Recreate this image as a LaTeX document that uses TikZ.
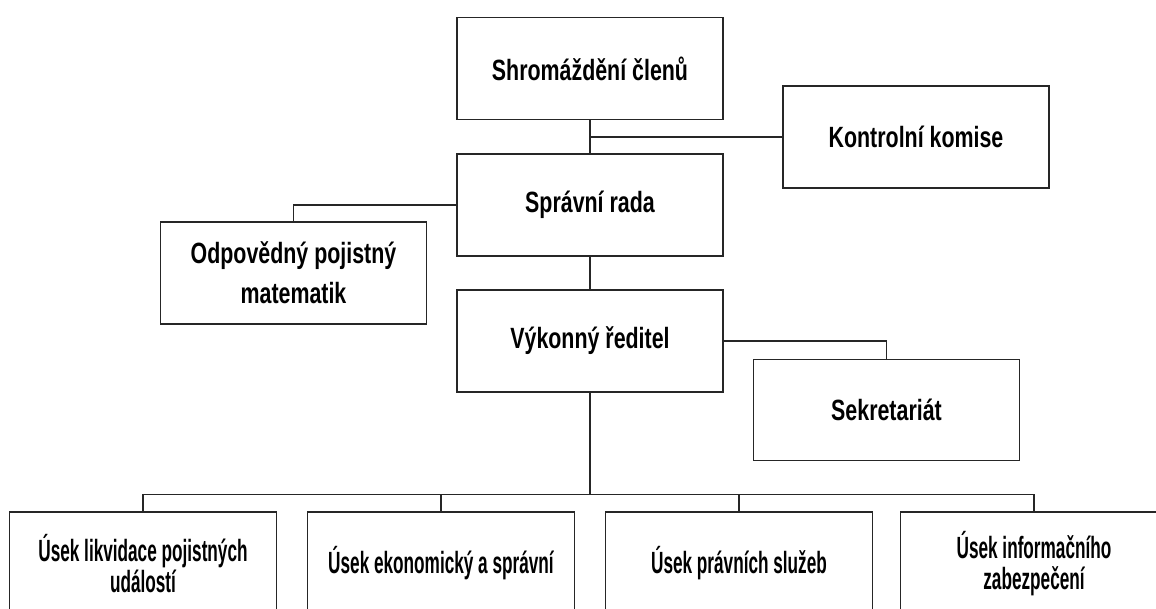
\documentclass[tikz,border=0pt]{standalone}
\usepackage{fontspec}
\setmainfont{Liberation Sans}
\newfontfamily\unitfont{Liberation Sans}[FakeStretch=0.73]
\newfontfamily\deptfont{Liberation Sans}[FakeStretch=0.56]
\usetikzlibrary{positioning}
\tikzset{x=1pt, y=-1pt}

\begin{document}
\begin{tikzpicture}
% Style
[
    line cap=rect,
    unit/.style={draw=frame, line width=1.8pt, fill=white, inner sep=0pt,
        minimum width=266pt, minimum height=102pt, align=center,
        font=\unitfont\bfseries\fontsize{29.3}{40}\selectfont},
    dept/.style={unit, minimum width=267pt, minimum height=103pt,
        font=\deptfont\bfseries\fontsize{30.7}{31}\selectfont},
    link/.style={draw=frame, line width=1.4pt}
]

% Define: Colors
\colorlet{frame}{black!85}

%=================================== Start ===================================
{
    % Define: Page
    \useasboundingbox (0,0) rectangle (1156,608);

    % Draw: Boards
    \node[unit] (assembly) at (590,68.5)  {Shromáždění členů};
    \node[unit] (control)  at (916,137)   {Kontrolní komise};
    \node[unit] (board)    at (590,205)   {Správní rada};
    \node[unit] (actuary)  at (293.5,273) {Odpovědný pojistný\\matematik};
    \node[unit] (director) at (590,341)   {Výkonný ředitel};
    \node[unit, minimum height=101pt] (office) at (886.5,410) {Sekretariát};

    % Draw: Departments
    \node[dept] (claims)  at (143,563.5)  {Úsek likvidace pojistných\\událostí};
    \node[dept] (economy) at (441,563.5)  {Úsek ekonomický a správní};
    \node[dept] (legal)   at (739,563.5)  {Úsek právních služeb};
    \node[dept] (it)      at (1034,563.5) {Úsek informačního\\zabezpečení};

    % Draw: Links
    \draw[link] (assembly.south) -- (board.north);
    \draw[link] (control.west) -- (control.west -| assembly.south);
    \draw[link] (board.west) -| (actuary.north);
    \draw[link] (board.south) -- (director.north);
    \draw[link] (director.east) -| (office.north);

    % Draw: Bus
    \coordinate (bus) at (590,494.5);
    \draw[link] (director.south) -- (bus);
    \foreach \dept in {claims, economy, legal, it} {
        \draw[link] (bus) -| (\dept.north);
    }
}
%==================================== END ====================================
\end{tikzpicture}
\end{document}
